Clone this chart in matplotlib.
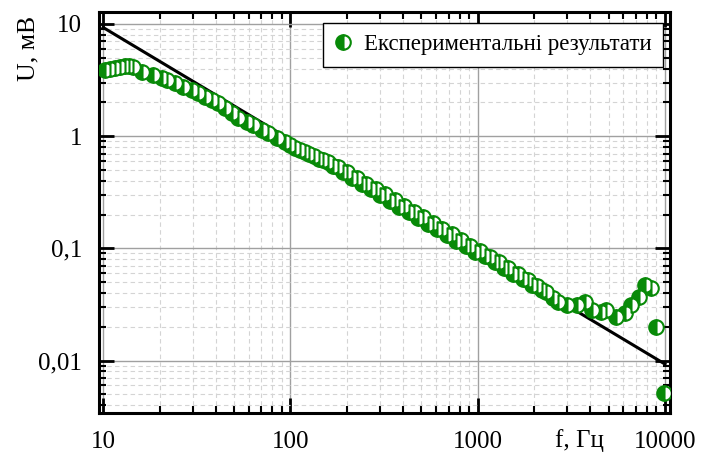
import matplotlib
matplotlib.use('Agg')
import matplotlib.pyplot as plt
from matplotlib.ticker import FixedLocator, LogLocator, NullFormatter

plt.rcParams['font.family'] = ['Liberation Serif', 'DejaVu Serif']

freq = [10.2, 10.9, 11.6, 12.3, 13.1, 13.8, 14.5, 16.1, 18.5, 20.6, 22.0, 24.2, 26.7,
        29.8, 32.1, 35.0, 38.1, 41.1, 44.7, 48.8, 52.5, 58.5, 63.1, 70.5, 75.9, 84.8,
        93.4, 100, 106, 112, 119, 126, 134, 142, 150, 159, 169, 179, 190, 201, 213,
        226, 240, 254, 269, 285, 302, 320, 340, 360, 382, 405, 429, 455, 482, 511,
        542, 574, 609, 645, 684, 725, 768, 814, 863, 915, 970, 1030, 1090, 1160, 1230,
        1300, 1380, 1460, 1550, 1640, 1740, 1850, 1960, 2080, 2200, 2330, 2510, 2700,
        2980, 3380, 3720, 4100, 4580, 4870, 5500, 6080, 6620, 7310, 7780, 8470, 9010,
        9940]
volt = [3.89, 3.97, 4.06, 4.15, 4.23, 4.23, 4.15, 3.74, 3.52, 3.30, 3.17, 2.98, 2.75,
        2.58, 2.43, 2.24, 2.11, 1.98, 1.79, 1.61, 1.46, 1.34, 1.26, 1.14, 1.07, 0.96,
        0.88, 0.83, 0.79, 0.76, 0.72, 0.69, 0.665, 0.63, 0.61, 0.585, 0.545, 0.535, 0.48,
        0.475, 0.425, 0.425, 0.375, 0.378, 0.335, 0.338, 0.297, 0.302, 0.265, 0.268,
        0.235, 0.238, 0.209, 0.212, 0.187, 0.189, 0.166, 0.168, 0.148, 0.150, 0.132,
        0.133, 0.117, 0.119, 0.104, 0.106, 0.0925, 0.094, 0.085, 0.084, 0.0755, 0.075,
        0.067, 0.0665, 0.0595, 0.059, 0.053, 0.0525, 0.047, 0.0465, 0.0425, 0.041,
        0.036, 0.033, 0.0315, 0.0315, 0.0334, 0.0284, 0.0272, 0.0284, 0.0246, 0.0267,
        0.0315, 0.037, 0.0474, 0.0446, 0.020, 0.0051]

# fitted straight line
fit_f = [10, 10000]
fit_u = [9.3, 0.0093]

xticks = [10, 100, 1000, 10000]
xlabels = ['10', '100', '1000', '10000']
yticks = [0.01, 0.1, 1, 10]
ylabels = ['0,01', '0,1', '1', '10']

fig = plt.figure(figsize=(7.02, 4.58), dpi=100)
ax = fig.add_axes([0.141, 0.098, 0.813, 0.876])
ax.set_xscale('log')
ax.set_yscale('log')
ax.set_xlim(9.5, 10600)
ax.set_ylim(0.0034, 12.8)

ax.grid(True, which='major', color='#a0a0a0', linewidth=1.0, linestyle='-')
ax.grid(True, which='minor', color='#d4d4d4', linewidth=0.8, linestyle=(0, (4, 3)))
ax.set_axisbelow(True)

ax.plot(fit_f, fit_u, color='black', linewidth=2.2, zorder=3)
ax.plot(freq, volt, linestyle='none', marker='o', markersize=10.5, fillstyle='left',
        color='#088a08', markerfacecoloralt='white', markeredgewidth=1.5,
        label='Експериментальні результати', zorder=4)

ax.xaxis.set_major_locator(FixedLocator(xticks))
ax.set_xticklabels(xlabels)
ax.yaxis.set_major_locator(FixedLocator(yticks))
ax.set_yticklabels(ylabels)
ax.xaxis.set_minor_locator(LogLocator(base=10, subs=range(2, 10), numticks=20))
ax.yaxis.set_minor_locator(LogLocator(base=10, subs=range(2, 10), numticks=20))
ax.xaxis.set_minor_formatter(NullFormatter())
ax.yaxis.set_minor_formatter(NullFormatter())

ax.tick_params(which='both', direction='in', top=True, right=True, colors='black')
ax.tick_params(which='major', length=11, width=2.0, labelsize=18)
ax.tick_params(which='minor', length=5, width=1.5)
ax.tick_params(axis='x', which='major', pad=13)
ax.tick_params(axis='y', which='major', pad=12)
for sp in ax.spines.values():
    sp.set_linewidth(2.2)

ax.set_ylabel('U, мВ', fontsize=18.5)
ax.yaxis.set_label_coords(-0.105, 0.91)
ax.text(0.842, -0.069, 'f, Гц', transform=ax.transAxes, fontsize=18,
        ha='center', va='center')

leg = ax.legend(loc='upper right', bbox_to_anchor=(0.988, 0.973), borderaxespad=0,
                fontsize=16.5, fancybox=False, framealpha=1, edgecolor='black',
                handlelength=0.8, handletextpad=0.5, borderpad=0.5)
leg.get_frame().set_linewidth(1.0)

fig.savefig('out.png', dpi=100)
